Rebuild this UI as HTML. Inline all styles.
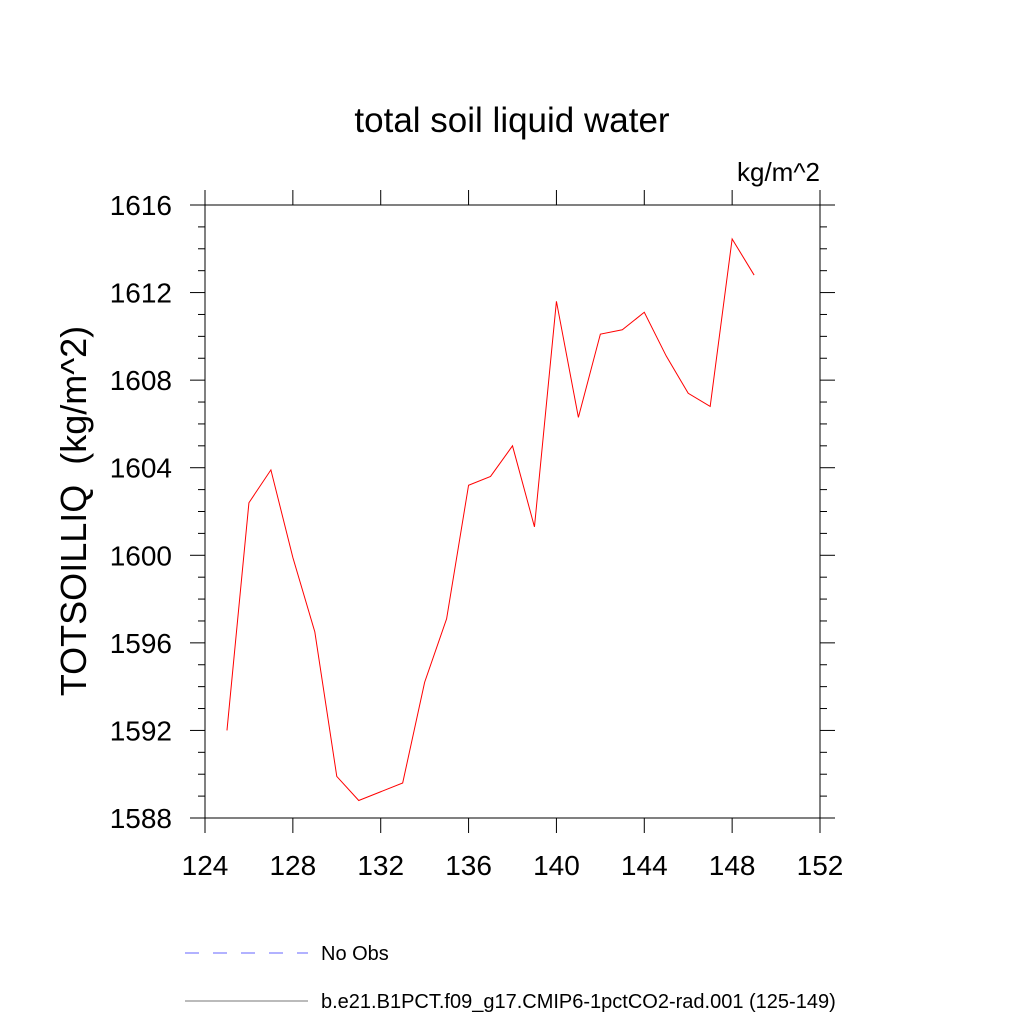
<!DOCTYPE html>
<html><head><meta charset="utf-8"><style>body{margin:0;background:#fff}svg{display:block}text{font-family:"Liberation Sans",sans-serif;fill:#000}</style></head>
<body>
<svg width="1024" height="1024">
<text x="512" y="132" font-size="35" text-anchor="middle">total soil liquid water</text>
<text x="820" y="181" font-size="26" text-anchor="end">kg/m^2</text>
<text transform="translate(86,511) rotate(-90)" font-size="36" text-anchor="middle">TOTSOILLIQ&#160;&#160;(kg/m^2)</text>
<rect x="205" y="205" width="615" height="613" fill="none" stroke="#000" stroke-width="1"/>
<g id="ticks"></g>
<polyline id="series" fill="none" stroke="#ff0000" stroke-width="1"/>
<line x1="185" y1="953" x2="308" y2="953" stroke="#6666ff" stroke-dasharray="14,14"/>
<text x="321" y="960" font-size="20">No Obs</text>
<line x1="185" y1="1001" x2="308" y2="1001" stroke="#777"/>
<text x="321" y="1008" font-size="20">b.e21.B1PCT.f09_g17.CMIP6-1pctCO2-rad.001 (125-149)</text>
</svg>
<script>
const years=[125,126,127,128,129,130,131,132,133,134,135,136,137,138,139,140,141,142,143,144,145,146,147,148,149];
const values=[1592.0,1602.4,1603.9,1599.9,1596.5,1589.9,1588.8,1589.2,1589.6,1594.2,1597.1,1603.2,1603.6,1605.0,1601.3,1611.6,1606.3,1610.1,1610.3,1611.1,1609.1,1607.4,1606.8,1614.45,1612.8];
const xTicks=[124,128,132,136,140,144,148,152];
const yTicks=[1588,1592,1596,1600,1604,1608,1612,1616];
const X=v=>205+(v-124)*(615/28), Y=v=>818-(v-1588)*(613/28);
const NS='http://www.w3.org/2000/svg', g=document.getElementById('ticks');
function ln(x1,y1,x2,y2,name){const l=document.createElementNS(NS,'line');l.setAttribute('x1',x1);l.setAttribute('y1',y1);l.setAttribute('x2',x2);l.setAttribute('y2',y2);l.setAttribute('stroke','#000');


g.appendChild(l);}
function tx(x,y,s,anchor,name){const t=document.createElementNS(NS,'text');t.setAttribute('x',x);t.setAttribute('y',y);t.setAttribute('font-size','28');t.setAttribute('text-anchor',anchor);t.textContent=s;


g.appendChild(t);}
xTicks.forEach(v=>{const x=X(v);ln(x,818,x,833,'x-tick');ln(x,205,x,190,'x-tick-top');tx(x,875,v,'middle','x-tick-label');});
for(let v=1588;v<=1616;v++){const y=Y(v);const major=(v%4===0);const L=major?15:7;ln(205,y,205-L,y,'y-tick');ln(820,y,820+L,y,'y-tick-right');if(major)tx(172,y+10,v,'end','y-tick-label');}
document.getElementById('series').setAttribute('points',years.map((yr,i)=>X(yr)+','+Y(values[i])).join(' '));
</script>
</body></html>
